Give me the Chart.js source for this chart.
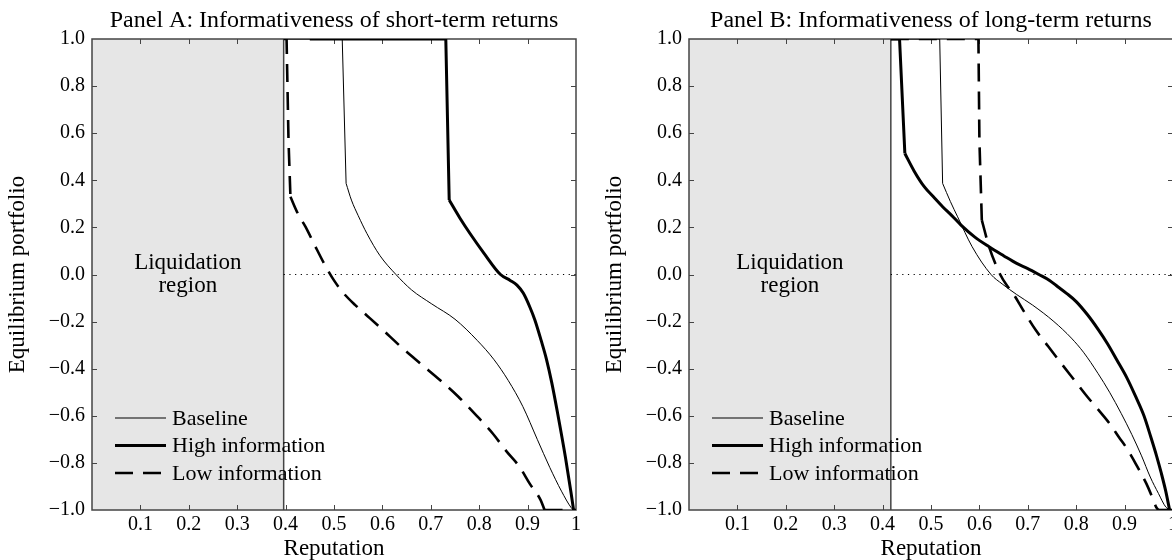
<!DOCTYPE html>
<html><head><meta charset="utf-8">
<script src="https://cdn.jsdelivr.net/npm/chart.js@4.4.1/dist/chart.umd.min.js"></script>
<style>
html,body{margin:0;padding:0;background:#fff;overflow:hidden;width:1172px;height:560px;position:relative;}
#a{position:absolute;left:0;top:0;}
#b{position:absolute;left:597px;top:0;}
</style></head><body>
<canvas id="a" width="597" height="560"></canvas>
<canvas id="b" width="597" height="560"></canvas>
<script>
// ---------- data ----------
const xTickLabels = ['', '0.1', '0.2', '0.3', '0.4', '0.5', '0.6', '0.7', '0.8', '0.9', '1'];
const yTickLabels = ['\u22121.0', '\u22120.8', '\u22120.6', '\u22120.4', '\u22120.2', '0.0', '0.2', '0.4', '0.6', '0.8', '1.0'];
const seriesNames = ['Baseline', 'High information', 'Low information'];
const panelTitles = ['Panel A: Informativeness of short-term returns', 'Panel B: Informativeness of long-term returns'];
const xAxisTitle = 'Reputation';
const yAxisTitle = 'Equilibrium portfolio';
const regionLabel = ['Liquidation', 'region'];
const liquidationA = 0.396;
const liquidationB = 0.417;

const baselineA = [[0.396,1],[0.517,1],[0.525,0.387],[0.536,0.316],[0.55,0.25],[0.568,0.174],[0.595,0.08],[0.628,0.0],[0.66,-0.065],[0.702,-0.125],[0.75,-0.19],[0.796,-0.28],[0.83,-0.36],[0.86,-0.45],[0.89,-0.56],[0.92,-0.70],[0.946,-0.82],[0.97,-0.92],[0.99,-0.99],[0.995,-1]];
const highA = [[0.45,1],[0.731,1],[0.738,0.316],[0.76,0.24],[0.781,0.174],[0.81,0.09],[0.844,0.0],[0.864,-0.025],[0.878,-0.045],[0.891,-0.079],[0.905,-0.14],[0.915,-0.193],[0.928,-0.28],[0.939,-0.36],[0.95,-0.46],[0.962,-0.589],[0.978,-0.774],[0.99,-0.93],[0.995,-1]];
const lowA = [[0.396,1],[0.402,1],[0.406,0.57],[0.41,0.33],[0.425,0.26],[0.441,0.203],[0.46,0.125],[0.48,0.045],[0.50,-0.025],[0.52,-0.08],[0.544,-0.13],[0.57,-0.178],[0.599,-0.232],[0.64,-0.31],[0.678,-0.377],[0.72,-0.45],[0.757,-0.519],[0.795,-0.60],[0.828,-0.675],[0.856,-0.75],[0.883,-0.816],[0.905,-0.89],[0.927,-0.958],[0.935,-1],[1.0,-1]];

const baselineB = [[0.417,1],[0.518,1],[0.524,0.387],[0.54,0.31],[0.555,0.245],[0.585,0.118],[0.624,0.0],[0.647,-0.04],[0.677,-0.085],[0.71,-0.13],[0.754,-0.2],[0.79,-0.27],[0.815,-0.33],[0.845,-0.42],[0.869,-0.5],[0.893,-0.59],[0.915,-0.68],[0.935,-0.77],[0.953,-0.86],[0.97,-0.93],[0.985,-0.987],[0.995,-1]];
const highB = [[0.417,1],[0.435,1],[0.446,0.514],[0.465,0.44],[0.486,0.373],[0.505,0.33],[0.524,0.288],[0.543,0.25],[0.562,0.21],[0.59,0.16],[0.62,0.118],[0.65,0.08],[0.677,0.047],[0.70,0.025],[0.723,0.0],[0.745,-0.025],[0.762,-0.052],[0.78,-0.08],[0.80,-0.115],[0.823,-0.17],[0.846,-0.235],[0.865,-0.295],[0.884,-0.363],[0.905,-0.44],[0.923,-0.519],[0.94,-0.6],[0.954,-0.689],[0.966,-0.77],[0.976,-0.845],[0.985,-0.92],[0.993,-1]];
const lowB = [[0.417,1],[0.598,1],[0.6,0.57],[0.605,0.231],[0.62,0.118],[0.643,0.0],[0.658,-0.05],[0.669,-0.079],[0.69,-0.15],[0.716,-0.235],[0.742,-0.305],[0.769,-0.377],[0.796,-0.448],[0.823,-0.519],[0.846,-0.575],[0.869,-0.633],[0.888,-0.69],[0.907,-0.746],[0.926,-0.815],[0.945,-0.888],[0.958,-0.95],[0.965,-0.987],[0.97,-1],[1.0,-1]];

// index of the kink where each curve leaves its straight head / joins its straight tail
const kinksA = {base: [2, 19], high: [2, 18], low: [3, 23]};
const kinksB = {base: [2, 21], high: [2, 30], low: [3, 22]};

// ---------- styling ----------
const FONT = "'Liberation Serif', 'Times New Roman', serif";
Chart.defaults.font.family = FONT;
Chart.defaults.color = '#000';
const FRAME = '#444';
const seriesStyles = [
  {borderWidth: 1, borderDash: []},
  {borderWidth: 3, borderDash: []},
  {borderWidth: 2.6, borderDash: [18, 10]}
];
const toPts = arr => arr.map(p => ({x: p[0], y: p[1]}));

function seriesDatasets(arr, kinks, s) {
  const st = seriesStyles[s];
  const parts = [
    {pts: arr.slice(0, kinks[0] + 1), mode: 'default'},
    {pts: arr.slice(kinks[0], kinks[1] + 1), mode: 'monotone'},
    {pts: arr.slice(kinks[1]), mode: 'default'}
  ];
  return parts.filter(p => p.pts.length > 1).map(p => ({
    label: seriesNames[s], data: toPts(p.pts), borderColor: '#000',
    borderWidth: st.borderWidth, borderDash: st.borderDash,
    cubicInterpolationMode: p.mode, tension: 0, order: 1 + s
  }));
}

const frameTicks = {
  id: 'frameTicks',
  beforeDatasetsDraw(chart) {
    const {ctx, chartArea: ca, scales: {x, y}} = chart;
    ctx.save();
    ctx.strokeStyle = FRAME; ctx.lineWidth = 1;
    ctx.beginPath();
    x.ticks.forEach((t, i) => {
      if (i === 0 || i === x.ticks.length - 1) return;
      const px = Math.round(x.getPixelForValue(t.value)) + 0.5;
      ctx.moveTo(px, ca.top); ctx.lineTo(px, ca.top + 5);
      ctx.moveTo(px, ca.bottom); ctx.lineTo(px, ca.bottom - 5);
    });
    y.ticks.forEach((t, i) => {
      if (i === 0 || i === y.ticks.length - 1) return;
      const py = Math.round(y.getPixelForValue(t.value)) + 0.5;
      ctx.moveTo(ca.left, py); ctx.lineTo(ca.left + 5, py);
      ctx.moveTo(ca.right, py); ctx.lineTo(ca.right - 5, py);
    });
    ctx.stroke();
    ctx.lineWidth = 1.5;
    ctx.strokeRect(ca.left, ca.top, ca.right - ca.left, ca.bottom - ca.top);
    ctx.restore();
  }
};

const annotations = {
  id: 'annotations',
  afterDatasetsDraw(chart, args, opts) {
    const {ctx, chartArea: ca, scales: {x, y}} = chart;
    ctx.save();
    ctx.fillStyle = '#000';
    ctx.font = '23px ' + FONT;
    ctx.textAlign = 'center'; ctx.textBaseline = 'middle';
    const cx = x.getPixelForValue(opts.edge / 2), cy = y.getPixelForValue(0);
    ctx.fillText(regionLabel[0], cx, cy - 12);
    ctx.fillText(regionLabel[1], cx, cy + 11);
    ctx.font = '22px ' + FONT;
    ctx.textAlign = 'left';
    seriesNames.forEach((name, i) => {
      const st = seriesStyles[i];
      const yy = ca.top + 379 + i * 27.5;
      const x0 = ca.left + 23, x1 = ca.left + 74;
      ctx.save();
      ctx.strokeStyle = '#000'; ctx.lineWidth = st.borderWidth;
      ctx.setLineDash(st.borderDash);
      ctx.beginPath(); ctx.moveTo(x0, yy); ctx.lineTo(x1, yy); ctx.stroke();
      ctx.restore();
      ctx.fillText(name, ca.left + 80, yy + 1);
    });
    ctx.restore();
  }
};

function makeChart(id, title, edge, base, high, low, kinks) {
  return new Chart(document.getElementById(id), {
    type: 'line',
    data: {
      datasets: [
        ...seriesDatasets(base, kinks.base, 0),
        ...seriesDatasets(high, kinks.high, 1),
        ...seriesDatasets(low, kinks.low, 2),
        {label: 'zero', data: toPts([[edge, 0], [1, 0]]), borderColor: '#000', borderWidth: 1, borderDash: [1.2, 4.5], order: 8},
        {label: 'edge', data: toPts([[edge, 1], [edge, -1]]), borderColor: FRAME, borderWidth: 1.5, order: 9},
        {label: 'region', data: toPts([[0, 1], [edge, 1]]), borderColor: 'rgba(0,0,0,0)', borderWidth: 0, backgroundColor: '#e6e6e6', fill: 'start', order: 10}
      ]
    },
    options: {
      responsive: false, animation: false, devicePixelRatio: 1,
      layout: {padding: {left: 0, right: 21, top: 0, bottom: 0}},
      elements: {point: {radius: 0, hoverRadius: 0}, line: {tension: 0, borderCapStyle: 'butt', borderJoinStyle: 'miter'}},
      events: [],
      plugins: {
        legend: {display: false},
        tooltip: {enabled: false},
        filler: {drawTime: 'beforeDraw'},
        title: {display: true, text: title, fullSize: false, color: '#000',
                font: {size: 24, weight: 'normal', family: FONT}, padding: {top: 6, bottom: 4.2}},
        annotations: {edge: edge}
      },
      scales: {
        x: {
          type: 'linear', position: 'bottom', min: 0, max: 1,
          afterFit: s => { s.height = 50; },
          grid: {display: false, drawTicks: false},
          border: {display: false},
          ticks: {stepSize: 0.1, autoSkip: false, maxRotation: 0, padding: 3, color: '#000',
                  font: {size: 20, family: FONT},
                  callback: (v, i) => xTickLabels[i]},
          title: {display: true, text: xAxisTitle, color: '#000', font: {size: 23, family: FONT, lineHeight: 1}, padding: {top: 0, bottom: 0}}
        },
        y: {
          type: 'linear', position: 'left', min: -1, max: 1,
          afterFit: s => { s.width = 92; },
          grid: {display: false, drawTicks: false},
          border: {display: false},
          ticks: {stepSize: 0.2, autoSkip: false, padding: 7, color: '#000',
                  font: {size: 20, family: FONT},
                  callback: (v, i) => yTickLabels[i]},
          title: {display: true, text: yAxisTitle, color: '#000', font: {size: 23, family: FONT}, padding: {top: 4, bottom: 0}}
        }
      }
    },
    plugins: [frameTicks, annotations]
  });
}

makeChart('a', panelTitles[0], liquidationA, baselineA, highA, lowA, kinksA);
makeChart('b', panelTitles[1], liquidationB, baselineB, highB, lowB, kinksB);
</script>
</body></html>
